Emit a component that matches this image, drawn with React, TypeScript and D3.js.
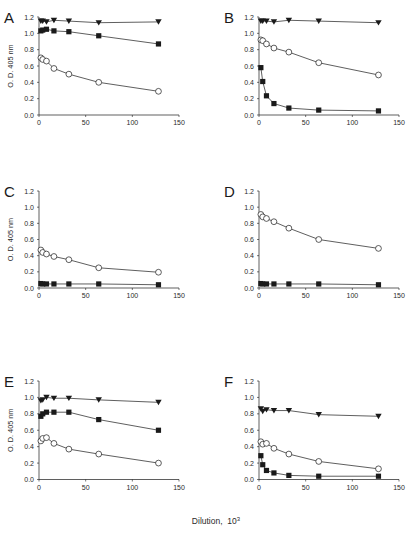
import React from "react";
import * as d3 from "d3";

// ---- data ----
const dilutions = [2, 4, 8, 16, 32, 64, 128];
const xTicks = [0, 50, 100, 150];
const yTicks = [0, 0.2, 0.4, 0.6, 0.8, 1.0, 1.2];
const panelLetters = ["A", "B", "C", "D", "E", "F"];

const triangleA = [1.15, 1.15, 1.14, 1.16, 1.15, 1.13, 1.14];
const squareA = [1.03, 1.04, 1.05, 1.03, 1.02, 0.97, 0.87];
const circleA = [0.7, 0.68, 0.66, 0.57, 0.5, 0.4, 0.29];

const triangleB = [1.15, 1.15, 1.15, 1.14, 1.16, 1.15, 1.13];
const squareB = [0.58, 0.41, 0.235, 0.14, 0.085, 0.06, 0.05];
const circleB = [0.92, 0.91, 0.87, 0.82, 0.77, 0.64, 0.49];

const triangleC: number[] = [];
const squareC = [0.055, 0.05, 0.05, 0.05, 0.05, 0.05, 0.04];
const circleC = [0.47, 0.44, 0.42, 0.39, 0.35, 0.25, 0.195];

const triangleD: number[] = [];
const squareD = [0.055, 0.05, 0.05, 0.05, 0.05, 0.05, 0.04];
const circleD = [0.91, 0.88, 0.86, 0.82, 0.74, 0.6, 0.49];

const triangleE = [0.96, 0.97, 1.0, 0.99, 0.99, 0.97, 0.94];
const squareE = [0.77, 0.8, 0.82, 0.82, 0.82, 0.73, 0.6];
const circleE = [0.47, 0.5, 0.51, 0.44, 0.37, 0.31, 0.2];

const triangleF = [0.86, 0.83, 0.85, 0.84, 0.84, 0.79, 0.77];
const squareF = [0.29, 0.18, 0.11, 0.08, 0.05, 0.04, 0.04];
const circleF = [0.46, 0.43, 0.44, 0.38, 0.31, 0.22, 0.13];

const triangles = [triangleA, triangleB, triangleC, triangleD, triangleE, triangleF];
const squares = [squareA, squareB, squareC, squareD, squareE, squareF];
const circles = [circleA, circleB, circleC, circleD, circleE, circleF];
const showYTitle = [true, false, true, false, true, false];

// ---- layout ----
const W = 412;
const H = 534;
const colX = [
  [39, 179],
  [259, 399],
];
const rowY = [
  [115, 17],
  [288, 191],
  [479.5, 381],
];
const FONT = "'Liberation Sans', Arial, sans-serif";
const INK = "#1a1a1a";
const TXT = "#2a2a2a";

function Panel({ idx }: { idx: number }) {
  const col = idx % 2;
  const row = Math.floor(idx / 2);
  const x = d3.scaleLinear().domain([0, 150]).range(colX[col]);
  const y = d3.scaleLinear().domain([0, 1.2]).range(rowY[row]);
  const line = d3
    .line<[number, number]>()
    .x((d) => x(d[0]))
    .y((d) => y(d[1]));
  const pts = (vals: number[]) =>
    vals.map((v, i) => [dilutions[i], v] as [number, number]);

  const tri = pts(triangles[idx]);
  const sq = pts(squares[idx]);
  const ci = pts(circles[idx]);
  const x0 = x(0);
  const y0 = y(0);
  const ts = 3.2;

  return (
    <g>
      {/* axes */}
      <line x1={x0} x2={x0} y1={y(0)} y2={y(1.2)} stroke={INK} strokeWidth={0.7} />
      <line x1={x(0)} x2={x(150)} y1={y0} y2={y0} stroke={INK} strokeWidth={0.7} />
      {yTicks.map((t) => (
        <g key={"y" + t}>
          <line x1={x0 - 2} x2={x0} y1={y(t)} y2={y(t)} stroke={INK} strokeWidth={0.6} />
          <text
            x={x0 - 5}
            y={y(t) + 2.5}
            textAnchor="end"
            fontSize={7}
            fontFamily={FONT}
            fill={TXT}
          >
            {t.toFixed(1)}
          </text>
        </g>
      ))}
      {xTicks.map((t) => (
        <g key={"x" + t}>
          <line x1={x(t)} x2={x(t)} y1={y0} y2={y0 + 2} stroke={INK} strokeWidth={0.6} />
          <text
            x={x(t)}
            y={y0 + 10}
            textAnchor="middle"
            fontSize={7}
            fontFamily={FONT}
            fill={TXT}
          >
            {t}
          </text>
        </g>
      ))}
      {/* panel letter */}
      <text
        x={x0 - 35}
        y={y(1.2) + 6}
        fontSize={15}
        fontFamily={FONT}
        fill={INK}
      >
        {panelLetters[idx]}
      </text>
      {showYTitle[idx] && (
        <text
          transform={`translate(${x0 - 26},${(y(0) + y(1.2)) / 2}) rotate(-90)`}
          textAnchor="middle"
          fontSize={7.3}
          fontFamily={FONT}
          fill={TXT}
        >
          O. D. 405 nm
        </text>
      )}
      {/* lines */}
      {ci.length > 0 && <path d={line(ci) || ""} fill="none" stroke={INK} strokeWidth={0.7} />}
      {sq.length > 0 && <path d={line(sq) || ""} fill="none" stroke={INK} strokeWidth={0.7} />}
      {tri.length > 0 && <path d={line(tri) || ""} fill="none" stroke={INK} strokeWidth={0.7} />}
      {/* markers */}
      {ci.map((d, i) => (
        <circle key={"c" + i} cx={x(d[0])} cy={y(d[1])} r={2.9} fill="#fff" stroke={INK} strokeWidth={0.7} />
      ))}
      {sq.map((d, i) => (
        <rect key={"s" + i} x={x(d[0]) - 2.6} y={y(d[1]) - 2.6} width={5.2} height={5.2} fill={INK} />
      ))}
      {tri.map((d, i) => (
        <path
          key={"t" + i}
          d={`M${x(d[0]) - ts},${y(d[1]) - ts * 0.8} L${x(d[0]) + ts},${y(d[1]) - ts * 0.8} L${x(d[0])},${y(d[1]) + ts * 0.9} Z`}
          fill={INK}
        />
      ))}
    </g>
  );
}

export default function App() {
  return (
    <svg width={W} height={H} style={{ position: "absolute", left: 0, top: 0, background: "#fff" }}>
      <rect x={0} y={0} width={W} height={H} fill="#fff" />
      {panelLetters.map((_, i) => (
        <Panel key={i} idx={i} />
      ))}
      <text x={216} y={524} textAnchor="middle" fontSize={8.5} fontFamily={FONT} fill={TXT}>
        Dilution,{"\u00a0\u00a0"}10
        <tspan dy={-3.5} fontSize={6}>3</tspan>
      </text>
    </svg>
  );
}
